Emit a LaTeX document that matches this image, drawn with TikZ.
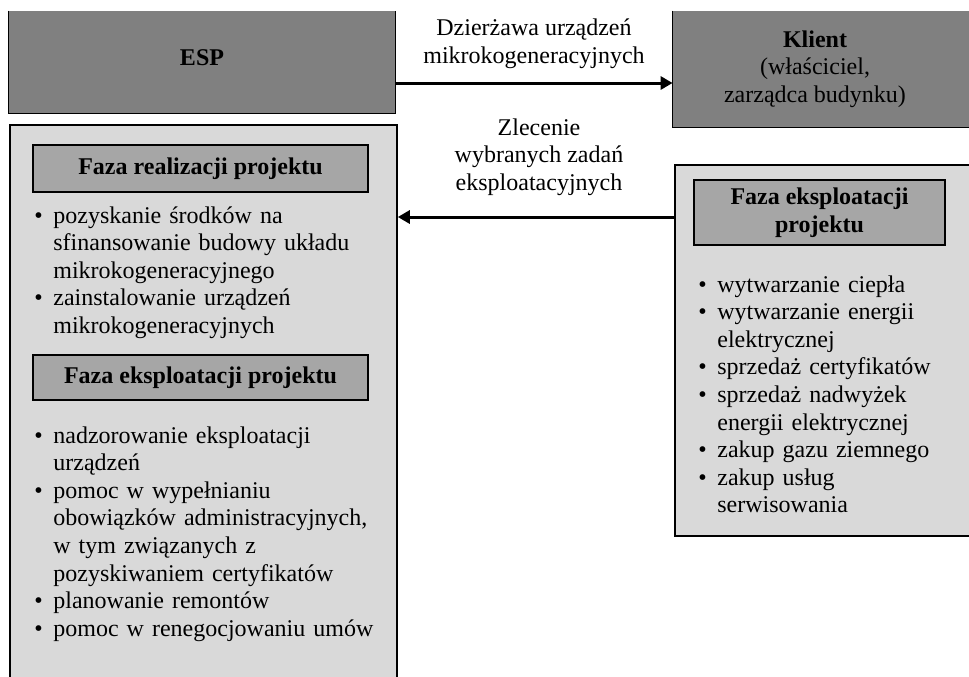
\documentclass[tikz,border=0pt]{standalone}
\usepackage{fontspec}
\setmainfont{Liberation Serif}
\usetikzlibrary{arrows.meta}
\definecolor{darkfill}{HTML}{808080}
\definecolor{headfill}{HTML}{A6A6A6}
\definecolor{lightfill}{HTML}{D9D9D9}
\newcommand{\bitem}[1]{\par\hangindent=9.5pt\hangafter=1\noindent\strut\makebox[9.5pt][l]{\textbullet}#1\par}
\begin{document}
\begin{tikzpicture}[x=0.5pt,y=-0.5pt,
  every node/.style={font=\fontsize{12}{13.8}\selectfont},
  darkbox/.style={fill=darkfill, inner sep=0pt},
  lightbox/.style={fill=lightfill, draw=black, line width=0.8pt, inner sep=0pt},
  headbox/.style={fill=headfill, draw=black, line width=0.7pt, inner sep=0pt, font=\fontsize{12}{13.8}\selectfont\bfseries, align=center},
  listbox/.style={anchor=north west, inner sep=0pt, align=left},
  lbl/.style={align=center, inner sep=0pt},
  arr/.style={line width=1.5pt, -{Triangle[length=6pt,width=6.5pt]}},
  border/.style={line width=0.8pt}]
\path[use as bounding box] (0,0) rectangle (969,676);
\clip (0,0) rectangle (969,676);

% top boxes
\node[darkbox, minimum width=193pt, minimum height=51pt] (esp) at (202,62) {};
\draw[border] (esp.north west) -- (esp.south west) -- (esp.south east) -- (esp.north east);
\node[lbl, font=\fontsize{12}{13.8}\selectfont\bfseries] (esptxt) at (202,58) {ESP};

\node[darkbox, minimum width=158.5pt, minimum height=58pt] (klient) at (831.5,69) {};
\draw[border] (klient.north west) -- (klient.south west) -- (klient.south east);
\node[lbl] (klienttxt) at (815,69) {\textbf{Klient}\\(właściciel,\\zarządca budynku)};

% left big box
\node[lightbox, minimum width=193.5pt, minimum height=297.5pt] (lbox) at (203.5,422.5) {};
\node[headbox, minimum width=167.5pt, minimum height=23.5pt] (lh1) at (200.5,168.5) {Faza realizacji projektu};
\node[listbox, text width=180pt] (l1) at (34,195) {%
\bitem{pozyskanie środków na\newline sfinansowanie budowy układu\newline mikrokogeneracyjnego}
\bitem{zainstalowanie urządzeń\newline mikrokogeneracyjnych}};
\node[headbox, minimum width=167.5pt, minimum height=22.5pt] (lh2) at (200.5,377.5) {Faza eksploatacji projektu};
\node[listbox, text width=180pt] (l2) at (34,415) {%
\bitem{nadzorowanie eksploatacji\newline urządzeń}
\bitem{pomoc w wypełnianiu\newline obowiązków administracyjnych,\newline w tym związanych z\newline pozyskiwaniem certyfikatów}
\bitem{planowanie remontów}
\bitem{pomoc w renegocjowaniu umów}};

% right box
\node[lightbox, minimum width=157.5pt, minimum height=185.5pt] (rbox) at (832.5,350.5) {};
\node[headbox, minimum width=125.5pt, minimum height=32.5pt] (rh) at (819.5,212.5) {Faza eksploatacji\\projektu};
\node[listbox, text width=130pt] (r1) at (698,264) {%
\bitem{wytwarzanie ciepła}
\bitem{wytwarzanie energii\newline elektrycznej}
\bitem{sprzedaż certyfikatów}
\bitem{sprzedaż nadwyżek\newline energii elektrycznej}
\bitem{zakup gazu ziemnego}
\bitem{zakup usług\newline serwisowania}};

% connectors
\coordinate (ya) at (0,83);
\coordinate (yb) at (0,217);
\draw[arr] (esp.east |- ya) -- (klient.west |- ya);
\draw[arr] (rbox.west |- yb) -- (lbox.east |- yb);
\node[lbl] (t1) at (534,44) {Dzierżawa urządzeń\\mikrokogeneracyjnych};
\node[lbl] (t2) at (539,157) {Zlecenie\\wybranych zadań\\eksploatacyjnych};
\end{tikzpicture}
\end{document}
